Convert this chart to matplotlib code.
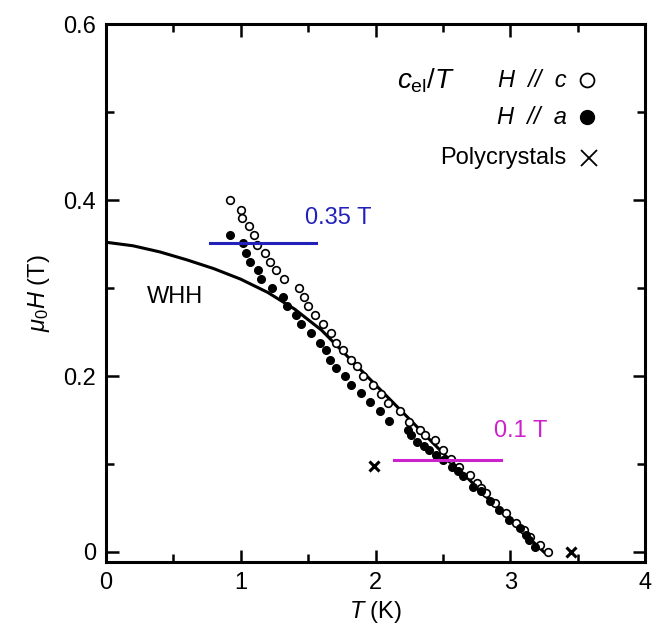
import matplotlib
matplotlib.use("Agg")
import matplotlib.pyplot as plt

plt.rcParams['font.family'] = ['Liberation Sans', 'DejaVu Sans']
plt.rcParams['mathtext.fontset'] = 'custom'
plt.rcParams['mathtext.rm'] = 'Liberation Sans'
plt.rcParams['mathtext.it'] = 'Liberation Sans:italic'

# H // c (open circles)
Tc_T = [0.92, 1.00, 1.01, 1.06, 1.10, 1.12, 1.18, 1.22, 1.26, 1.32, 1.43, 1.47, 1.50,
        1.55, 1.61, 1.67, 1.71, 1.76, 1.82, 1.86, 1.91, 1.98, 2.04, 2.09, 2.18, 2.25,
        2.33, 2.37, 2.44, 2.50, 2.56, 2.62, 2.70, 2.75, 2.78, 2.82, 2.89, 2.97, 3.04,
        3.10, 3.15, 3.22, 3.28]
Tc_H = [0.400, 0.389, 0.380, 0.370, 0.360, 0.349, 0.340, 0.330, 0.320, 0.310, 0.300,
        0.290, 0.279, 0.269, 0.259, 0.249, 0.238, 0.229, 0.218, 0.211, 0.200, 0.190,
        0.180, 0.169, 0.160, 0.148, 0.139, 0.133, 0.127, 0.116, 0.106, 0.097, 0.088,
        0.078, 0.073, 0.067, 0.056, 0.044, 0.033, 0.025, 0.017, 0.008, 0.000]

# H // a (filled circles)
Ta_T = [0.92, 1.02, 1.04, 1.07, 1.13, 1.15, 1.23, 1.31, 1.34, 1.41, 1.45, 1.52, 1.59,
        1.63, 1.66, 1.71, 1.77, 1.82, 1.89, 1.96, 2.03, 2.10, 2.24, 2.26, 2.31, 2.36,
        2.40, 2.45, 2.50, 2.57, 2.61, 2.65, 2.72, 2.78, 2.85, 2.92, 2.99, 3.07, 3.12,
        3.14, 3.18]
Ta_H = [0.360, 0.351, 0.340, 0.330, 0.320, 0.310, 0.300, 0.290, 0.279, 0.269, 0.259,
        0.249, 0.238, 0.229, 0.218, 0.209, 0.200, 0.190, 0.181, 0.170, 0.160, 0.149,
        0.139, 0.133, 0.125, 0.120, 0.116, 0.110, 0.105, 0.097, 0.092, 0.086, 0.074,
        0.069, 0.058, 0.048, 0.036, 0.027, 0.019, 0.014, 0.006]

# Polycrystals
Tp_T = [1.99, 3.45]
Tp_H = [0.098, 0.000]

# WHH curve
whh_T = [0.0, 0.2, 0.4, 0.6, 0.8, 1.0, 1.2, 1.4, 1.6, 1.8, 2.0, 2.2, 2.4, 2.6, 2.8,
         3.0, 3.25]
whh_H = [0.352, 0.348, 0.341, 0.332, 0.322, 0.310, 0.295, 0.276, 0.252, 0.221, 0.190,
         0.159, 0.128, 0.097, 0.066, 0.036, 0.0]

blue = '#2222bb'
magenta = '#cc22cc'

fig = plt.figure(figsize=(6.6, 6.37), dpi=100)
ax = fig.add_axes([0.1606, 0.1177, 0.9773 - 0.1606, 0.9623 - 0.1177])

ax.plot(whh_T, whh_H, color='black', lw=2.2, zorder=2, solid_joinstyle='round')
ax.plot(Tc_T, Tc_H, 'o', mfc='white', mec='black', mew=1.2, ms=5.5, zorder=3)
ax.plot(Ta_T, Ta_H, 'o', mfc='black', mec='black', ms=5.5, zorder=3)
ax.plot(Tp_T, Tp_H, 'x', color='black', mew=2.2, ms=7, zorder=3)

ax.plot([0.77, 1.56], [0.351, 0.351], color=blue, lw=2.2, zorder=4)
ax.text(1.478, 0.379, '0.35 T', color=blue, fontsize=17, ha='left', va='center')
ax.plot([2.14, 2.93], [0.1045, 0.1045], color=magenta, lw=2.2, zorder=4)
ax.text(2.88, 0.137, '0.1 T', color=magenta, fontsize=17, ha='left', va='center')

ax.text(0.30, 0.29, 'WHH', fontsize=17, ha='left', va='center')

# legend-like annotations
ax.text(2.16, 0.536, r'$c_{\rm el}/T$', fontsize=20, ha='left', va='center')
ax.text(3.42, 0.536, 'H  //  c', fontstyle='italic', fontsize=17, ha='right', va='center')
ax.plot([3.57], [0.536], 'o', mfc='white', mec='black', mew=1.3, ms=10)
ax.text(3.42, 0.494, 'H  //  a', fontstyle='italic', fontsize=17, ha='right', va='center')
ax.plot([3.57], [0.494], 'o', mfc='black', mec='black', ms=10)
ax.text(3.42, 0.448, 'Polycrystals', fontsize=17, ha='right', va='center')
ax.plot([3.585], [0.448], 'x', color='black', mew=1.3, ms=11)

ax.set_xlim(0, 4)
ax.set_ylim(-0.0114, 0.6)
ax.set_xticks([0, 1, 2, 3, 4])
ax.set_xticks([0.5, 1.5, 2.5, 3.5], minor=True)
ax.set_yticks([0, 0.2, 0.4, 0.6])
ax.set_yticklabels(['0', '0.2', '0.4', '0.6'])
ax.set_yticks([0.1, 0.3, 0.5], minor=True)
ax.set_xticklabels(['0', '1', '2', '3', '4'])
ax.tick_params(which='both', direction='in', top=True, right=True, labelsize=17, width=1.8)
ax.tick_params(which='major', length=9, pad=7)
ax.tick_params(which='minor', length=6)
for s in ax.spines.values():
    s.set_linewidth(2.2)

ax.set_xlabel(r'$T$ (K)', fontsize=17, labelpad=4)
ax.set_ylabel(r'$\mu_0H$ (T)', fontsize=17, labelpad=8)

fig.savefig('out.png', dpi=100)
